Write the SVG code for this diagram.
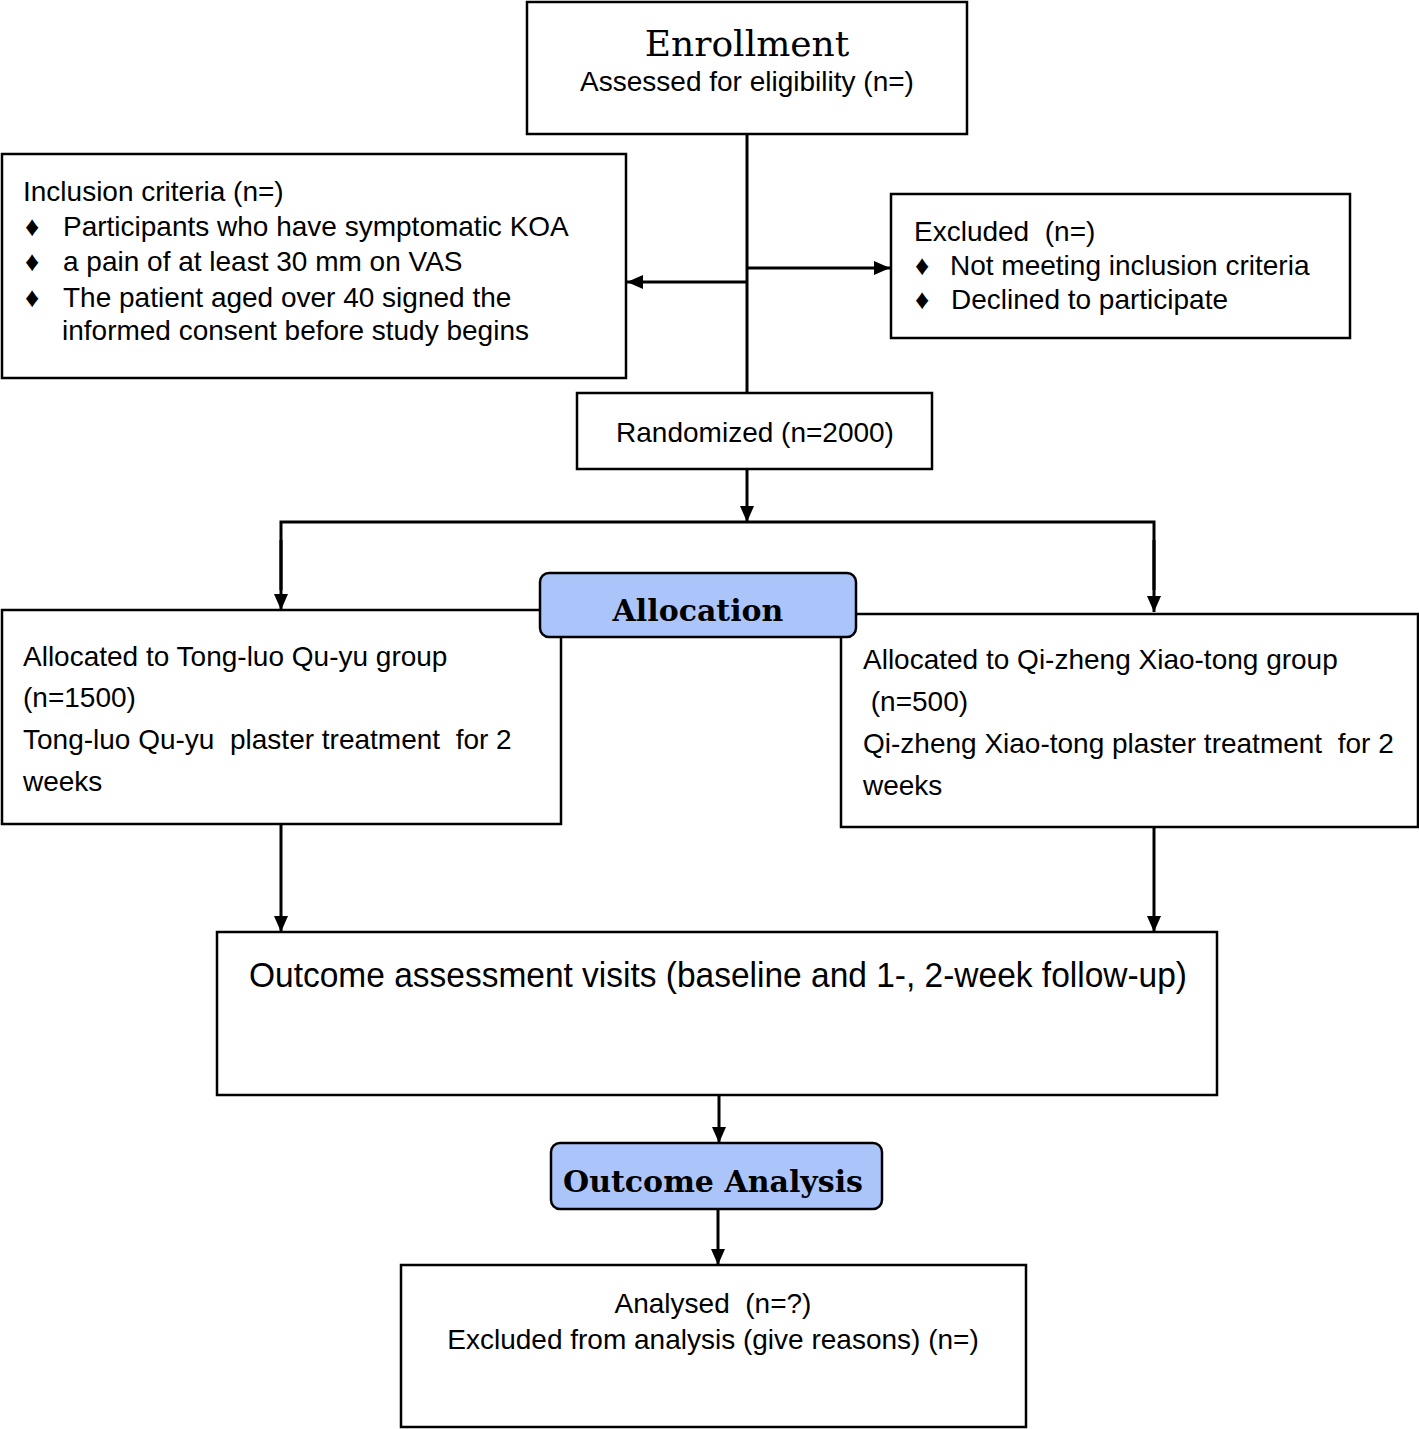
<svg xmlns="http://www.w3.org/2000/svg" width="1419" height="1429" viewBox="0 0 1419 1429">
<defs>
<marker id="ah" markerWidth="16" markerHeight="14" refX="16" refY="7" orient="auto" markerUnits="userSpaceOnUse">
<path d="M0,0 L16,7 L0,14 Z" fill="#000"/>
</marker>
<style>
.box{fill:#fff;stroke:#000;stroke-width:2.5}
.hdr{fill:#abc5fb;stroke:#000;stroke-width:2.5}
.t{font-family:"Liberation Sans",Arial,sans-serif;font-size:28px;fill:#000}
.big{font-size:35px}
.serif{font-family:"DejaVu Serif","Liberation Serif",serif;fill:#000}
.c{stroke:#000;stroke-width:3;fill:none}
</style>
</defs>
<rect width="1419" height="1429" fill="#fff"/>

<g id="connectors">
<line class="c" x1="747" y1="134" x2="747" y2="393"/>
<line class="c" x1="747" y1="282" x2="627" y2="282" marker-end="url(#ah)"/>
<line class="c" x1="747" y1="268" x2="890" y2="268" marker-end="url(#ah)"/>
<line class="c" x1="747" y1="469" x2="747" y2="522" marker-end="url(#ah)"/>
<polyline class="c" points="281,590 281,522 1154,522 1154,590"/>
<line class="c" x1="281" y1="540" x2="281" y2="610" marker-end="url(#ah)"/>
<line class="c" x1="1154" y1="540" x2="1154" y2="612" marker-end="url(#ah)"/>
<line class="c" x1="281" y1="824" x2="281" y2="932" marker-end="url(#ah)"/>
<line class="c" x1="1154" y1="827" x2="1154" y2="932" marker-end="url(#ah)"/>
<line class="c" x1="719" y1="1095" x2="719" y2="1143" marker-end="url(#ah)"/>
<line class="c" x1="718" y1="1209" x2="718" y2="1265" marker-end="url(#ah)"/>
</g>

<g id="enrollment">
<rect class="box" x="527" y="2" width="440" height="132"/>
<text class="serif" x="747" y="56" font-size="36" text-anchor="middle">Enrollment</text>
<text class="t" x="747" y="91" text-anchor="middle">Assessed for eligibility (n=)</text>
</g>

<g id="inclusion">
<rect class="box" x="2" y="154" width="624" height="224"/>
<text class="t" x="23" y="201">Inclusion criteria (n=)</text>
<text class="t" x="25" y="236">♦</text><text class="t" x="63" y="236">Participants who have symptomatic KOA</text>
<text class="t" x="25" y="271">♦</text><text class="t" x="63" y="271">a pain of at least 30 mm on VAS</text>
<text class="t" x="25" y="307">♦</text><text class="t" x="63" y="307">The patient aged over 40 signed the</text>
<text class="t" x="62" y="340">informed consent before study begins</text>
</g>

<g id="excluded">
<rect class="box" x="891" y="194" width="459" height="144"/>
<text class="t" x="914" y="241" xml:space="preserve">Excluded  (n=)</text>
<text class="t" x="915" y="275">♦</text><text class="t" x="950" y="275">Not meeting inclusion criteria</text>
<text class="t" x="915" y="309">♦</text><text class="t" x="951" y="309">Declined to participate</text>
</g>

<g id="randomized">
<rect class="box" x="577" y="393" width="355" height="76"/>
<text class="t" x="755" y="442" text-anchor="middle">Randomized (n=2000)</text>
</g>

<g id="group-tongluo">
<rect class="box" x="2" y="610" width="559" height="214"/>
<text class="t" x="23" y="666">Allocated to Tong-luo Qu-yu group</text>
<text class="t" x="23" y="707">(n=1500)</text>
<text class="t" x="23" y="749" xml:space="preserve">Tong-luo Qu-yu  plaster treatment  for 2</text>
<text class="t" x="23" y="791">weeks</text>
</g>

<g id="group-qizheng">
<rect class="box" x="841" y="614" width="577" height="213"/>
<text class="t" x="863" y="669">Allocated to Qi-zheng Xiao-tong group</text>
<text class="t" x="863" y="711" xml:space="preserve"> (n=500)</text>
<text class="t" x="863" y="753" xml:space="preserve">Qi-zheng Xiao-tong plaster treatment  for 2</text>
<text class="t" x="863" y="795">weeks</text>
</g>

<g id="allocation">
<rect class="hdr" x="540" y="573" width="316" height="64" rx="9"/>
<text class="serif" x="698" y="621" font-size="30" font-weight="bold" text-anchor="middle">Allocation</text>
</g>

<g id="outcome-assessment">
<rect class="box" x="217" y="932" width="1000" height="163"/>
<text class="t big" x="249" y="987" textLength="938" lengthAdjust="spacingAndGlyphs">Outcome assessment visits (baseline and 1-, 2-week follow-up)</text>
</g>

<g id="outcome-analysis">
<rect class="hdr" x="551" y="1143" width="331" height="66" rx="9"/>
<text class="serif" x="713" y="1192" font-size="30" font-weight="bold" text-anchor="middle">Outcome Analysis</text>
</g>

<g id="analysed">
<rect class="box" x="401" y="1265" width="625" height="162"/>
<text class="t" x="713" y="1313" text-anchor="middle" xml:space="preserve">Analysed  (n=?)</text>
<text class="t" x="713" y="1349" text-anchor="middle">Excluded from analysis (give reasons) (n=)</text>
</g>
</svg>
